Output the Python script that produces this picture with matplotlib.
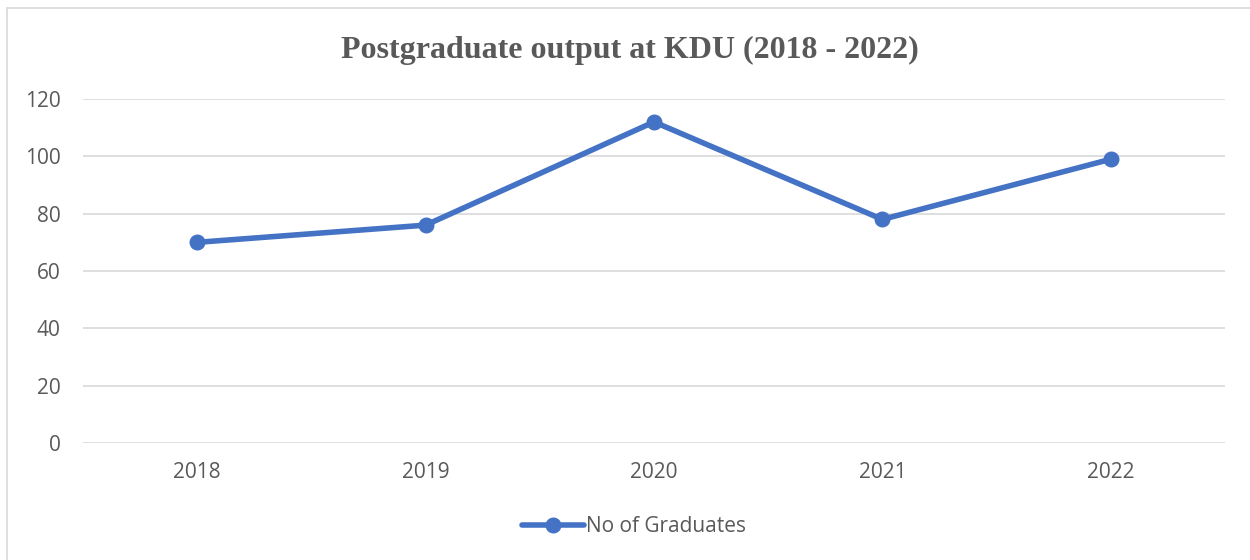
import matplotlib
matplotlib.use("Agg")
import matplotlib.pyplot as plt
from matplotlib.patches import Rectangle

years = ["2018", "2019", "2020", "2021", "2022"]
graduates = [70, 76, 112, 78, 99]
yticks = [0, 20, 40, 60, 80, 100, 120]

W, H = 1250, 560
fig = plt.figure(figsize=(W / 100, H / 100), dpi=100)
fig.patch.set_facecolor("white")

# outer chart border
fig.patches.append(Rectangle((7 / W, -0.05), 1.2, (H - 8) / H + 0.05,
                             transform=fig.transFigure, fill=False,
                             edgecolor="#D9D9D9", linewidth=1.2))

ax = fig.add_axes([83 / W, 1 - 443 / H, (1225 - 83) / W, (443 - 99) / H])
x = list(range(len(years)))
ax.plot(x, graduates, color="#4472C4", linewidth=4.0, marker="o",
        markersize=10.5, solid_capstyle="round", label="No of Graduates")
ax.set_xlim(-0.5, len(years) - 0.5)
ax.set_ylim(0, 120)
ax.set_yticks(yticks)
ax.set_xticks(x)
ax.set_xticklabels(years)
ax.grid(axis="y", color="#D9D9D9", linewidth=1.2)
ax.set_axisbelow(True)
for s in ax.spines.values():
    s.set_visible(False)
ax.tick_params(length=0, labelsize=15, labelcolor="#595959")
ax.tick_params(axis="x", pad=14)
ax.tick_params(axis="y", pad=16)
for lab in ax.get_xticklabels() + ax.get_yticklabels():
    lab.set_fontfamily("Open Sans")

fig.text(630 / W, 1 - 50 / H, "Postgraduate output at KDU (2018 - 2022)",
         ha="center", va="center", fontsize=23, fontweight="bold",
         color="#595959", fontfamily="Liberation Serif")

leg = fig.legend(loc="center", bbox_to_anchor=(634 / W, 1 - 527 / H),
                 frameon=False, handlelength=3.0, handletextpad=0.1,
                 prop={"family": "Open Sans", "size": 15})
for t in leg.get_texts():
    t.set_color("#595959")

fig.savefig("out.png", dpi=100)
